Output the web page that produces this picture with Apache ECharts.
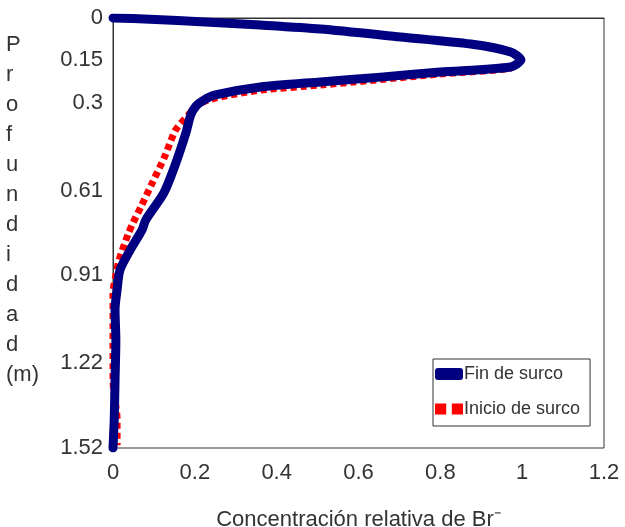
<!DOCTYPE html>
<html>
<head>
<meta charset="utf-8">
<script src="https://cdn.jsdelivr.net/npm/echarts@6/dist/echarts.min.js"></script>
<style>
html,body{margin:0;padding:0;background:#fff;}
#c{width:625px;height:527px;}
</style>
</head>
<body>
<div id="c"></div>
<script>
// Fin de surco (blue)
const finConc  = [0, 0.09, 0.225, 0.36, 0.507, 0.703, 0.874, 0.972, 0.997, 0.972, 0.80, 0.654, 0.507, 0.36, 0.25, 0.222, 0.203, 0.190, 0.178, 0.150, 0.124, 0.080, 0.071, 0.042, 0.017, 0.010, 0.005, 0.007, 0.005, 0.003, 0];
const finDepth = [0, 0.004, 0.014, 0.025, 0.039, 0.067, 0.092, 0.12, 0.148, 0.173, 0.191, 0.209, 0.226, 0.244, 0.272, 0.29, 0.311, 0.343, 0.407, 0.527, 0.619, 0.714, 0.749, 0.82, 0.891, 0.961, 1.03, 1.14, 1.28, 1.42, 1.52];
// Inicio de surco (red)
const iniConc  = [0, 0.09, 0.225, 0.36, 0.507, 0.703, 0.874, 0.972, 0.995, 0.972, 0.80, 0.507, 0.36, 0.25, 0.21, 0.184, 0.153, 0.126, 0.097, 0.068, 0.050, 0.038, 0.015, 0.006, 0, 0, 0, 0.01, 0.01];
const iniDepth = [0, 0.004, 0.014, 0.025, 0.039, 0.067, 0.092, 0.12, 0.148, 0.177, 0.198, 0.237, 0.255, 0.283, 0.304, 0.343, 0.396, 0.491, 0.58, 0.668, 0.721, 0.76, 0.855, 0.916, 0.972, 1.10, 1.28, 1.42, 1.51];
const depthTicks = [0, 0.15, 0.3, 0.61, 0.91, 1.22, 1.52];
const seriesNames = ['Fin de surco', 'Inicio de surco'];

const chart = echarts.init(document.getElementById('c'));
const font = 'Liberation Sans, Arial, sans-serif';
const txt = '#333';
chart.setOption({
  animation: false,
  backgroundColor: '#fff',
  grid: {left: 113, right: 21, top: 18, bottom: 79, show: true, borderColor: '#333', borderWidth: 1, backgroundColor: 'transparent', containLabel: false, outerBoundsMode: 'none'},
  xAxis: {
    type: 'value', min: 0, max: 1.2, interval: 0.2,
    axisLine: {show: true, lineStyle: {color: '#333', width: 1}},
    axisTick: {show: false},
    splitLine: {show: false},
    axisLabel: {color: txt, fontSize: 22, fontFamily: font, margin: 14},
    name: 'Concentración relativa de Br⁻',
    nameLocation: 'middle', nameGap: 61,
    nameTextStyle: {color: txt, fontSize: 22, fontFamily: font}
  },
  yAxis: {
    type: 'value', inverse: true, min: 0, max: 1.52,
    axisLine: {show: true, lineStyle: {color: '#333', width: 1}},
    axisTick: {show: false},
    splitLine: {show: false},
    axisLabel: {color: txt, fontSize: 22, fontFamily: font, margin: 10, customValues: depthTicks}
  },
  legend: {
    orient: 'vertical', left: 433, top: 359,
    padding: [6, 10, 8, 2],
    itemGap: 17, itemWidth: 28, itemHeight: 12,
    borderColor: '#333', borderWidth: 1,
    backgroundColor: '#fff',
    textStyle: {color: txt, fontSize: 18, fontFamily: font, padding: [0, 0, 0, -4]},
    data: [
      {name: seriesNames[0], icon: 'roundRect'},
      {name: seriesNames[1], icon: 'path://M0,0h8v8h-8z M12,0h8v8h-8z'}
    ]
  },
  graphic: [{
    type: 'text', left: 6, top: 30,
    style: {text: 'P\nr\no\nf\nu\nn\nd\ni\nd\na\nd\n(m)', fill: txt, font: '22px ' + font, lineHeight: 30, align: 'center'}
  }],
  series: [
    {
      name: seriesNames[1], type: 'line', showSymbol: false, symbol: 'none', smooth: 0.25,
      data: iniConc.map((v, i) => [v, iniDepth[i]]),
      itemStyle: {color: '#ff0000'},
      lineStyle: {color: '#ff0000', width: 7, type: [6, 4], cap: 'butt'}, z: 2
    },
    {
      name: seriesNames[0], type: 'line', showSymbol: false, symbol: 'none', smooth: 0.25,
      data: finConc.map((v, i) => [v, finDepth[i]]),
      itemStyle: {color: '#000080'},
      lineStyle: {color: '#000080', width: 9, cap: 'round', join: 'round'}, z: 3
    }
  ]
});
</script>
</body>
</html>
